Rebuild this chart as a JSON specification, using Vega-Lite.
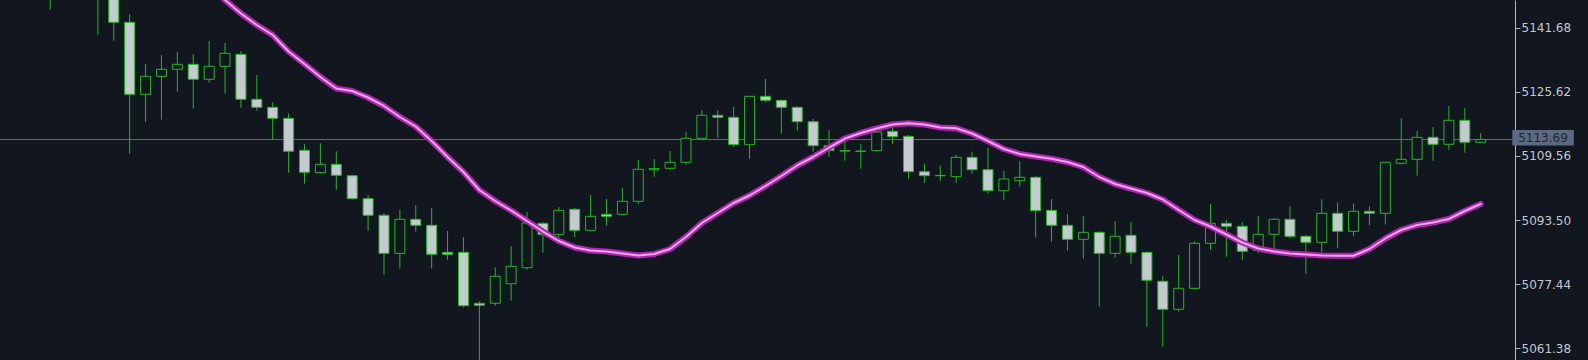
{
  "$schema": "https://vega.github.io/schema/vega-lite/v6.json",
  "width": 1515,
  "height": 360,
  "padding": {"left": 0, "top": 0, "right": 73, "bottom": 0},
  "autosize": {"type": "none"},
  "background": "#12161f",
  "config": {
    "view": {"stroke": null},
    "axis": {
      "grid": false,
      "domainColor": "#b4b8c0",
      "domainWidth": 1,
      "tickColor": "#b4b8c0",
      "tickSize": 5,
      "labelColor": "#c4c8d0",
      "labelFont": "DejaVu Sans",
      "labelFontSize": 12,
      "labelPadding": 1,
      "title": null
    }
  },
  "datasets": {
    "candles": [
      {"i":0,"open":5160,"high":5163,"low":5157,"close":5158},
      {"i":1,"open":5158,"high":5161,"low":5155,"close":5156},
      {"i":2,"open":5156,"high":5158,"low":5146.2,"close":5152},
      {"i":3,"open":5152,"high":5158,"low":5149.5,"close":5155},
      {"i":4,"open":5155,"high":5157,"low":5149.2,"close":5151},
      {"i":5,"open":5151,"high":5155,"low":5140.0,"close":5150},
      {"i":6,"open":5150,"high":5152,"low":5138.49,"close":5143.11},
      {"i":7,"open":5143.11,"high":5145.19,"low":5110.14,"close":5125.04},
      {"i":8,"open":5125.04,"high":5132.65,"low":5118.17,"close":5129.56},
      {"i":9,"open":5129.56,"high":5134.9,"low":5118.67,"close":5131.32},
      {"i":10,"open":5131.32,"high":5135.66,"low":5125.7,"close":5132.57},
      {"i":11,"open":5132.57,"high":5135.16,"low":5121.43,"close":5128.81},
      {"i":12,"open":5128.81,"high":5138.42,"low":5127.95,"close":5132.07},
      {"i":13,"open":5132.07,"high":5137.92,"low":5125.2,"close":5135.33},
      {"i":14,"open":5135.08,"high":5135.91,"low":5121.68,"close":5123.79},
      {"i":15,"open":5123.79,"high":5129.89,"low":5120.93,"close":5121.78},
      {"i":16,"open":5121.78,"high":5123.04,"low":5113.65,"close":5119.02},
      {"i":17,"open":5119.02,"high":5120.27,"low":5105.37,"close":5110.74},
      {"i":18,"open":5110.99,"high":5112.5,"low":5102.61,"close":5105.47},
      {"i":19,"open":5105.37,"high":5112.75,"low":5105.12,"close":5107.48},
      {"i":20,"open":5107.48,"high":5110.74,"low":5101.1,"close":5104.72},
      {"i":21,"open":5104.62,"high":5104.9,"low":5098.6,"close":5098.85},
      {"i":22,"open":5098.85,"high":5099.77,"low":5090.81,"close":5094.68},
      {"i":23,"open":5094.68,"high":5095.26,"low":5079.77,"close":5085.14},
      {"i":24,"open":5085.14,"high":5096.01,"low":5081.28,"close":5093.68},
      {"i":25,"open":5093.68,"high":5097.26,"low":5090.56,"close":5092.17},
      {"i":26,"open":5092.17,"high":5096.51,"low":5081.28,"close":5084.89},
      {"i":27,"open":5085.39,"high":5090.74,"low":5083.54,"close":5084.89},
      {"i":28,"open":5085.39,"high":5089.23,"low":5071.59,"close":5071.99},
      {"i":29,"open":5072.6,"high":5073.1,"low":5056.0,"close":5072.1},
      {"i":30,"open":5072.6,"high":5081.63,"low":5071.99,"close":5079.37},
      {"i":31,"open":5077.51,"high":5086.97,"low":5073.25,"close":5081.88},
      {"i":32,"open":5081.53,"high":5095.51,"low":5081.03,"close":5092.75},
      {"i":33,"open":5092.67,"high":5092.9,"low":5085.29,"close":5089.91},
      {"i":34,"open":5089.91,"high":5096.76,"low":5088.91,"close":5095.93},
      {"i":35,"open":5096.18,"high":5096.51,"low":5089.16,"close":5090.91},
      {"i":36,"open":5090.91,"high":5099.77,"low":5090.66,"close":5094.43},
      {"i":37,"open":5094.93,"high":5098.77,"low":5092.17,"close":5094.43},
      {"i":38,"open":5094.93,"high":5101.53,"low":5094.76,"close":5098.19},
      {"i":39,"open":5098.19,"high":5108.56,"low":5097.51,"close":5106.22},
      {"i":40,"open":5106.1,"high":5108.81,"low":5104.37,"close":5106.4},
      {"i":41,"open":5106.47,"high":5110.81,"low":5106.12,"close":5107.98},
      {"i":42,"open":5107.98,"high":5115.58,"low":5107.38,"close":5114.0},
      {"i":43,"open":5114.0,"high":5121.1,"low":5113.65,"close":5119.77},
      {"i":44,"open":5119.77,"high":5121.1,"low":5114.15,"close":5119.27},
      {"i":45,"open":5119.27,"high":5121.86,"low":5111.9,"close":5112.4},
      {"i":46,"open":5112.4,"high":5124.6,"low":5108.88,"close":5124.54},
      {"i":47,"open":5124.54,"high":5128.88,"low":5123.04,"close":5123.54},
      {"i":48,"open":5123.54,"high":5123.6,"low":5115.16,"close":5121.78},
      {"i":49,"open":5121.78,"high":5122.03,"low":5115.91,"close":5118.17},
      {"i":50,"open":5118.17,"high":5118.84,"low":5110.64,"close":5112.15},
      {"i":51,"open":5112.15,"high":5116.08,"low":5109.38,"close":5110.99},
      {"i":52,"open":5110.9,"high":5113.25,"low":5108.38,"close":5110.8},
      {"i":53,"open":5110.8,"high":5112.57,"low":5106.37,"close":5110.7},
      {"i":54,"open":5110.89,"high":5116.08,"low":5110.64,"close":5115.58},
      {"i":55,"open":5115.76,"high":5116.76,"low":5112.57,"close":5114.4},
      {"i":56,"open":5114.5,"high":5114.83,"low":5103.86,"close":5105.62},
      {"i":57,"open":5105.62,"high":5107.63,"low":5102.86,"close":5104.62},
      {"i":58,"open":5104.7,"high":5107.12,"low":5103.29,"close":5104.6},
      {"i":59,"open":5104.37,"high":5109.89,"low":5102.86,"close":5109.23},
      {"i":60,"open":5109.23,"high":5110.64,"low":5105.12,"close":5106.12},
      {"i":61,"open":5106.12,"high":5111.64,"low":5100.1,"close":5100.85},
      {"i":62,"open":5100.85,"high":5105.8,"low":5098.6,"close":5103.79},
      {"i":63,"open":5103.36,"high":5108.23,"low":5101.85,"close":5104.21},
      {"i":64,"open":5104.21,"high":5104.54,"low":5089.06,"close":5095.83},
      {"i":65,"open":5095.93,"high":5098.77,"low":5088.06,"close":5092.17},
      {"i":66,"open":5092.17,"high":5095.01,"low":5085.79,"close":5088.65},
      {"i":67,"open":5088.65,"high":5094.51,"low":5083.79,"close":5090.41},
      {"i":68,"open":5090.41,"high":5090.66,"low":5071.74,"close":5085.14},
      {"i":69,"open":5085.14,"high":5093.25,"low":5084.04,"close":5089.41},
      {"i":70,"open":5089.66,"high":5093.0,"low":5082.53,"close":5085.39},
      {"i":71,"open":5085.39,"high":5085.5,"low":5066.72,"close":5078.37},
      {"i":72,"open":5078.12,"high":5079.37,"low":5061.71,"close":5071.09},
      {"i":73,"open":5071.09,"high":5084.71,"low":5070.49,"close":5076.36},
      {"i":74,"open":5076.36,"high":5088.15,"low":5076.01,"close":5087.65},
      {"i":75,"open":5087.65,"high":5097.51,"low":5086.04,"close":5092.67},
      {"i":76,"open":5092.67,"high":5093.5,"low":5084.29,"close":5091.92},
      {"i":77,"open":5091.92,"high":5093.0,"low":5083.54,"close":5085.64},
      {"i":78,"open":5085.89,"high":5094.51,"low":5085.14,"close":5089.91},
      {"i":79,"open":5089.91,"high":5093.9,"low":5085.89,"close":5093.68},
      {"i":80,"open":5093.68,"high":5096.93,"low":5088.91,"close":5089.41},
      {"i":81,"open":5089.41,"high":5089.66,"low":5080.02,"close":5087.9},
      {"i":82,"open":5087.9,"high":5098.69,"low":5085.39,"close":5095.18},
      {"i":83,"open":5095.18,"high":5097.93,"low":5086.4,"close":5090.66},
      {"i":84,"open":5090.66,"high":5097.68,"low":5089.41,"close":5095.68},
      {"i":85,"open":5095.68,"high":5096.93,"low":5092.17,"close":5095.18},
      {"i":86,"open":5095.18,"high":5108.0,"low":5092.42,"close":5107.98},
      {"i":87,"open":5107.73,"high":5119.09,"low":5107.48,"close":5108.73},
      {"i":88,"open":5108.73,"high":5115.83,"low":5104.62,"close":5114.25},
      {"i":89,"open":5114.25,"high":5116.84,"low":5108.38,"close":5112.5},
      {"i":90,"open":5112.5,"high":5122.11,"low":5111.14,"close":5118.52},
      {"i":91,"open":5118.52,"high":5121.61,"low":5110.39,"close":5113.0},
      {"i":92,"open":5113.0,"high":5115.33,"low":5112.9,"close":5113.69}
    ],
    "ma": [
      {"i":12,"ma":5152.47},{"i":13,"ma":5148.71},{"i":14,"ma":5145.32},{"i":15,"ma":5142.43},
      {"i":16,"ma":5139.92},{"i":17,"ma":5135.78},{"i":18,"ma":5132.65},{"i":19,"ma":5129.38},
      {"i":20,"ma":5126.5},{"i":21,"ma":5125.87},{"i":22,"ma":5124.24},{"i":23,"ma":5122.11},
      {"i":24,"ma":5119.35},{"i":25,"ma":5116.96},{"i":26,"ma":5113.32},{"i":27,"ma":5109.31},
      {"i":28,"ma":5105.55},{"i":29,"ma":5101.03},{"i":30,"ma":5098.27},{"i":31,"ma":5095.88},
      {"i":32,"ma":5093.25},{"i":33,"ma":5090.61},{"i":34,"ma":5088.23},{"i":35,"ma":5086.6},
      {"i":36,"ma":5085.85},{"i":37,"ma":5085.6},{"i":38,"ma":5085.09},{"i":39,"ma":5084.59},
      {"i":40,"ma":5084.97},{"i":41,"ma":5086.22},{"i":42,"ma":5089.23},{"i":43,"ma":5092.75},
      {"i":44,"ma":5095.26},{"i":45,"ma":5097.77},{"i":46,"ma":5099.65},{"i":47,"ma":5102.03},
      {"i":48,"ma":5104.54},{"i":49,"ma":5107.18},{"i":50,"ma":5109.31},{"i":51,"ma":5111.69},
      {"i":52,"ma":5113.95},{"i":53,"ma":5115.33},{"i":54,"ma":5116.46},{"i":55,"ma":5117.46},
      {"i":56,"ma":5117.77},{"i":57,"ma":5117.46},{"i":58,"ma":5116.71},{"i":59,"ma":5116.51},
      {"i":60,"ma":5115.21},{"i":61,"ma":5113.32},{"i":62,"ma":5111.32},{"i":63,"ma":5110.06},
      {"i":64,"ma":5109.43},{"i":65,"ma":5108.86},{"i":66,"ma":5108.05},{"i":67,"ma":5106.8},
      {"i":68,"ma":5104.29},{"i":69,"ma":5102.53},{"i":70,"ma":5101.4},{"i":71,"ma":5100.27},
      {"i":72,"ma":5098.64},{"i":73,"ma":5096.01},{"i":74,"ma":5093.5},{"i":75,"ma":5091.87},
      {"i":76,"ma":5089.86},{"i":77,"ma":5087.85},{"i":78,"ma":5086.35},{"i":79,"ma":5085.6},
      {"i":80,"ma":5085.09},{"i":81,"ma":5084.84},{"i":82,"ma":5084.59},{"i":83,"ma":5084.54},
      {"i":84,"ma":5084.54},{"i":85,"ma":5086.22},{"i":86,"ma":5088.86},{"i":87,"ma":5090.99},
      {"i":88,"ma":5092.25},{"i":89,"ma":5092.88},{"i":90,"ma":5093.75},{"i":91,"ma":5095.76},
      {"i":92,"ma":5097.52}
    ],
    "last": [{"price": 5113.69, "label": "5113.69"}]
  },
  "layer": [
    {
      "data": {"name": "last"},
      "mark": {"type": "rule", "color": "#5d6b7e", "strokeWidth": 1},
      "encoding": {
        "y": {"field": "price", "type": "quantitative",
          "scale": {"domain": [5058.369, 5148.706], "zero": false, "nice": false},
          "axis": {
            "orient": "right",
            "values": [5141.68, 5125.62, 5109.56, 5093.50, 5077.44, 5061.38],
            "format": ".2f",
            "title": null
          }
        }
      }
    },
    {
      "data": {"name": "candles"},
      "mark": {"type": "rule", "color": "#20b820", "strokeWidth": 1, "clip": true},
      "encoding": {
        "x": {"field": "i", "type": "quantitative", "scale": {"domain": [-0.84375, 93.84375], "zero": false, "nice": false}, "axis": null},
        "y": {"field": "low", "type": "quantitative"},
        "y2": {"field": "high"}
      }
    },
    {
      "data": {"name": "candles"},
      "mark": {"type": "bar", "width": 10, "stroke": "#20b820", "strokeWidth": 1, "clip": true},
      "encoding": {
        "x": {"field": "i", "type": "quantitative", "axis": null},
        "y": {"field": "open", "type": "quantitative"},
        "y2": {"field": "close"},
        "fill": {"condition": {"test": "datum.close < datum.open", "value": "#c5c9d0"}, "value": "#12161f"}
      }
    },
    {
      "data": {"name": "ma"},
      "mark": {"type": "line", "color": "#b024b0", "strokeWidth": 6, "strokeCap": "round", "strokeJoin": "round", "clip": true},
      "encoding": {
        "x": {"field": "i", "type": "quantitative", "axis": null},
        "y": {"field": "ma", "type": "quantitative"}
      }
    },
    {
      "data": {"name": "ma"},
      "mark": {"type": "line", "color": "#e6a8e6", "strokeWidth": 2, "strokeCap": "round", "strokeJoin": "round", "clip": true},
      "encoding": {
        "x": {"field": "i", "type": "quantitative", "axis": null},
        "y": {"field": "ma", "type": "quantitative"}
      }
    },
    {
      "data": {"name": "last"},
      "mark": {"type": "rect", "color": "#5b6a80", "clip": false},
      "encoding": {
        "x": {"datum": 93.99, "type": "quantitative", "axis": null},
        "x2": {"datum": 97.86},
        "y": {"datum": 5116.08, "type": "quantitative"},
        "y2": {"datum": 5112.19}
      }
    },
    {
      "data": {"name": "last"},
      "mark": {"type": "text", "color": "#1f2532", "font": "DejaVu Sans", "fontSize": 12, "align": "center", "baseline": "middle", "clip": false},
      "encoding": {
        "x": {"datum": 95.92, "type": "quantitative", "axis": null},
        "y": {"datum": 5114.1, "type": "quantitative"},
        "text": {"field": "label"}
      }
    }
  ]
}
